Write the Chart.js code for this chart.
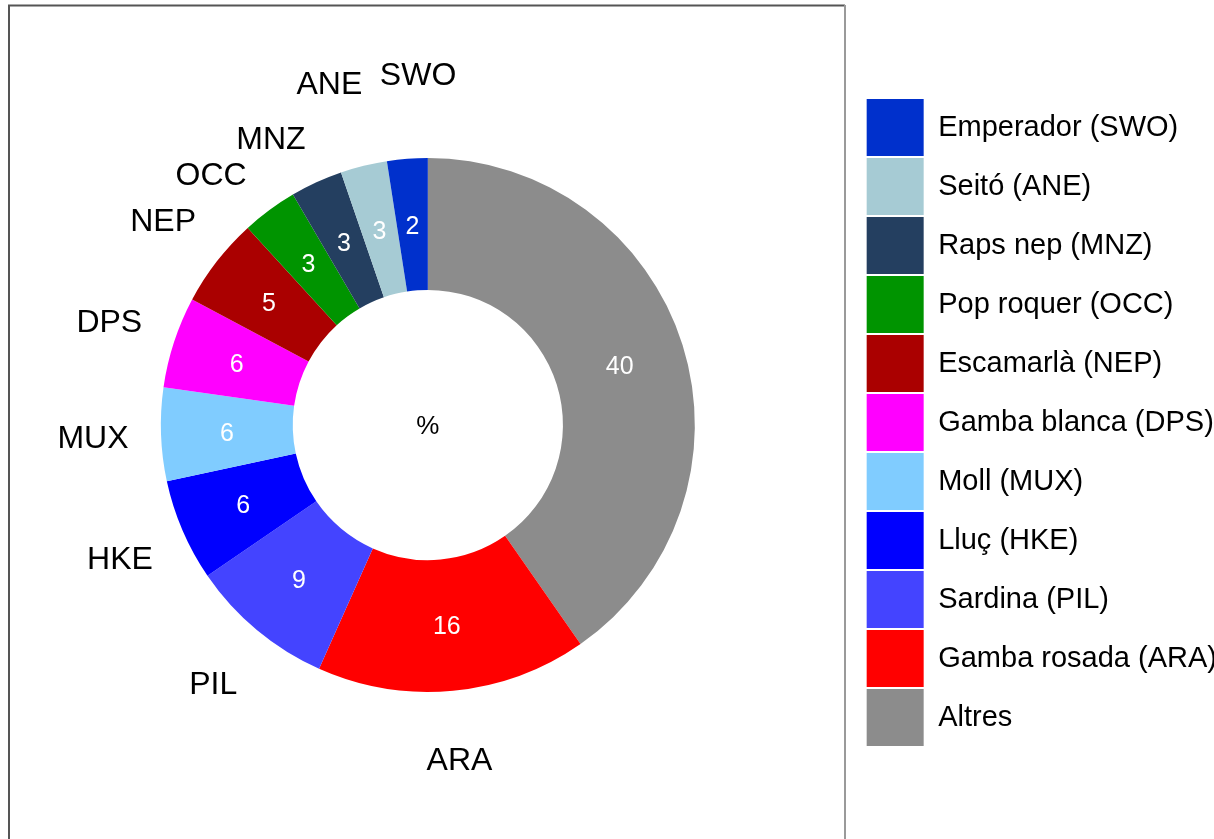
<!DOCTYPE html>
<html>
<head>
<meta charset="utf-8">
<script src="https://cdn.jsdelivr.net/npm/chart.js@4.4.1/dist/chart.umd.min.js"></script>
<style>
  html, body { margin: 0; padding: 0; background: #fff; }
  #wrap { width: 1214px; height: 839px; position: relative; overflow: hidden; }
  /* canvas starts 9px left of the page so the ring can sit left of the legend */
  #inner { position: absolute; left: -9px; top: 0; width: 1223px; height: 839px; }
</style>
</head>
<body>
<div id="wrap"><div id="inner"><canvas id="catchChart"></canvas></div></div>
<script>
// slices in clockwise order from 12 o'clock; the legend shows them reversed
const codes = ["", "ARA", "PIL", "HKE", "MUX", "DPS", "NEP", "OCC", "MNZ", "ANE", "SWO"];
const names = ["Altres", "Gamba rosada (ARA)", "Sardina (PIL)", "Lluç (HKE)", "Moll (MUX)",
  "Gamba blanca (DPS)", "Escamarlà (NEP)", "Pop roquer (OCC)", "Raps nep (MNZ)", "Seitó (ANE)", "Emperador (SWO)"];
const shares = [40.3, 16.36, 8.77, 6.17, 5.64, 5.52, 5.43, 3.35, 3.16, 2.82, 2.45];
const colors = ["#8c8c8c", "#ff0000", "#4444ff", "#0000ff", "#80ccff",
  "#ff00ff", "#aa0000", "#009400", "#243f60", "#a6cbd4", "#0030cc"];

const FONT = "'Liberation Sans', Arial, sans-serif";
const SHIFT = 9;

function putText(ctx, txt, x, y, color, size) {
  ctx.font = size + "px " + FONT;
  ctx.fillStyle = color;
  ctx.textAlign = "center";
  ctx.textBaseline = "alphabetic";
  ctx.fillText(txt, x, y + size * 0.36);
}

// frame around the plot panel
const panelBox = {
  id: "panelBox",
  beforeDraw(chart) {
    const ctx = chart.ctx;
    ctx.save();
    ctx.lineWidth = 2;
    ctx.strokeStyle = "#555";
    ctx.beginPath();
    ctx.moveTo(SHIFT + 9, 839); ctx.lineTo(SHIFT + 9, 5.5); ctx.lineTo(SHIFT + 845, 5.5);
    ctx.stroke();
    ctx.strokeStyle = "#9a9a9a";
    ctx.beginPath();
    ctx.moveTo(SHIFT + 845, 5); ctx.lineTo(SHIFT + 845, 839);
    ctx.stroke();
    ctx.restore();
  }
};

// value inside each slice, species code outside, % in the hole
const sliceText = {
  id: "sliceText",
  afterDatasetsDraw(chart, args, opts) {
    const ctx = chart.ctx;
    const arcs = chart.getDatasetMeta(0).data;
    ctx.save();
    arcs.forEach((arc, i) => {
      const p = arc.getProps(["x", "y", "startAngle", "endAngle", "innerRadius", "outerRadius"], true);
      const mid = (p.startAngle + p.endAngle) / 2;
      const rIn = (p.innerRadius + p.outerRadius) / 2;
      putText(ctx, String(Math.round(shares[i])), p.x + Math.cos(mid) * rIn, p.y + Math.sin(mid) * rIn, "#fff", 25);
      if (codes[i]) {
        const rOut = p.outerRadius * 1.255;
        const n = opts.nudge[codes[i]] || [0, 0];
        putText(ctx, codes[i], p.x + Math.cos(mid) * rOut + n[0], p.y + Math.sin(mid) * rOut + n[1], "#000", 32);
      }
    });
    putText(ctx, "%", arcs[0].x, arcs[0].y, "#000", 26);
    ctx.restore();
  }
};

const catchChart = new Chart(document.getElementById("catchChart"), {
  type: "doughnut",
  data: {
    labels: names,
    datasets: [{
      data: shares,
      backgroundColor: colors,
      borderWidth: 0,
      radius: 267,
      cutout: "50.6%"
    }]
  },
  options: {
    responsive: true,
    maintainAspectRatio: false,
    animation: false,
    layout: { padding: { left: 0, right: -13, top: 97, bottom: 86 } },
    plugins: {
      tooltip: { enabled: false },
      legend: {
        position: "right",
        align: "start",
        reverse: true,
        labels: {
          boxWidth: 57,
          boxHeight: 57,
          padding: 2,
          color: "#000",
          font: { size: 29, family: FONT }
        }
      },
      sliceText: {
        nudge: { SWO: [16, -17], ANE: [-18, -17], MNZ: [-17, 17], OCC: [-18, 18] }
      }
    }
  },
  plugins: [panelBox, sliceText]
});
</script>
</body>
</html>
